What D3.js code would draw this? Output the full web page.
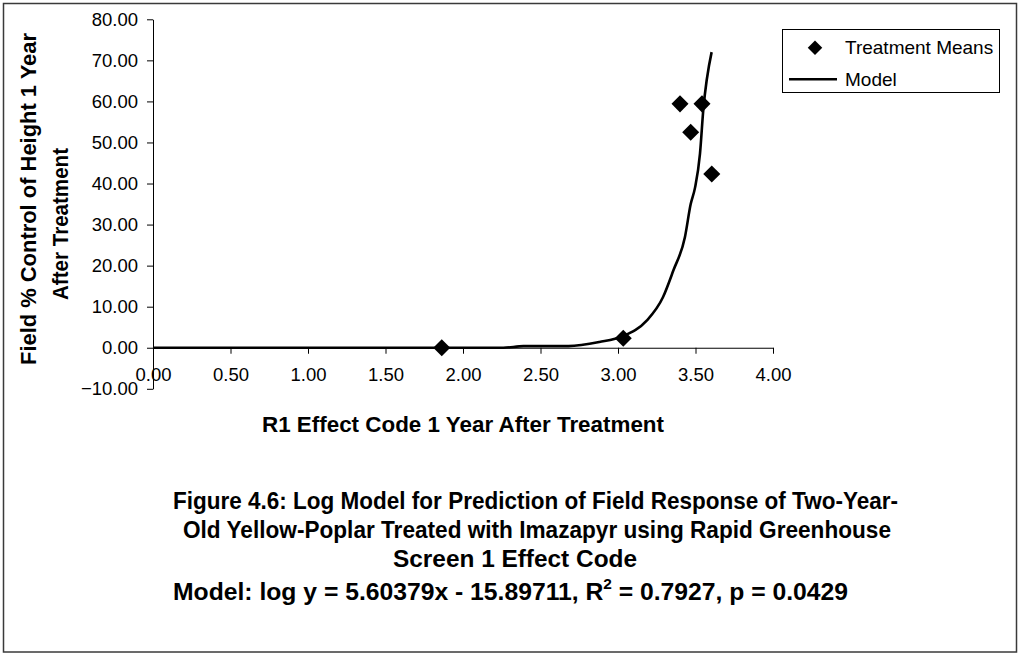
<!DOCTYPE html>
<html>
<head>
<meta charset="utf-8">
<script src="https://cdn.jsdelivr.net/npm/d3@7"></script>
<style>
  html, body { margin: 0; padding: 0; background: #fff; }
  svg { display: block; font-family: Arial, "Liberation Sans", sans-serif; }
</style>
</head>
<body>
<svg id="chart" width="1020" height="654"></svg>
<script>
// Treatment means: R1 effect code vs. field % control of height
const meanX = [1.863, 3.034, 3.40, 3.542, 3.469, 3.605];
const meanY = [0.0, 2.3, 59.4, 59.4, 52.5, 42.3];

// Fitted log model evaluated along the effect-code range
const modelX = [0.00, 1.86, 2.26, 2.39, 2.68, 2.88, 3.03, 3.185, 3.29, 3.357, 3.432, 3.469, 3.497, 3.529, 3.55, 3.604];
const modelY = [0.0, 0.0, 0.0, 0.4, 0.4, 1.4, 2.8, 6.6, 12.3, 18.8, 27.0, 35.0, 39.0, 47.3, 57.8, 72.0];

const xTicks = [0, 0.5, 1, 1.5, 2, 2.5, 3, 3.5, 4];
const yTicks = [-10, 0, 10, 20, 30, 40, 50, 60, 70, 80];

const seriesNames = ["Treatment Means", "Model"];
const xTitle = "R1 Effect Code 1 Year After Treatment";
const yTitle = ["Field % Control of Height 1 Year", "After Treatment"];
const caption = [
  "Figure 4.6: Log Model for Prediction of Field Response of Two-Year-",
  "Old Yellow-Poplar Treated with Imazapyr using Rapid Greenhouse",
  "Screen 1 Effect Code"
];

const svg = d3.select("#chart");

// outer frame
svg.append("rect")
  .attr("x", 3.5).attr("y", 3.5).attr("width", 1013).attr("height", 648.5)
  .attr("fill", "#fff").attr("stroke", "#3a3a3a").attr("stroke-width", 1.5);

const x = d3.scaleLinear().domain([0, 4]).range([153, 773]);
const y = d3.scaleLinear().domain([-10, 80]).range([388.8, 19.3]);

// x axis sits on y = 0
const xAxis = svg.append("g")
  .attr("transform", `translate(0,${y(0)})`)
  .call(d3.axisBottom(x).tickValues(xTicks).tickSize(6).tickSizeOuter(0).tickPadding(14)
    .tickFormat(d3.format(".2f")));
xAxis.select(".domain").attr("stroke", "#000");
xAxis.selectAll(".tick line").attr("stroke", "#000");
xAxis.selectAll("text").attr("font-size", 18.5).attr("fill", "#000")
  .attr("font-family", "Arial, 'Liberation Sans', sans-serif");

// y axis sits on x = 0
const yAxis = svg.append("g")
  .attr("transform", `translate(${x(0)},0)`)
  .call(d3.axisLeft(y).tickValues(yTicks).tickSize(6).tickSizeOuter(0).tickPadding(9)
    .tickFormat(d3.format(".2f")));
yAxis.select(".domain").attr("stroke", "#000");
yAxis.selectAll(".tick line").attr("stroke", "#000");
yAxis.selectAll("text").attr("font-size", 18.5).attr("fill", "#000")
  .attr("font-family", "Arial, 'Liberation Sans', sans-serif");

// model curve
const modelPts = modelX.map((v, i) => [v, modelY[i]]);
svg.append("path")
  .datum(modelPts)
  .attr("fill", "none").attr("stroke", "#000").attr("stroke-width", 2.6)
  .attr("stroke-linejoin", "round")
  .attr("d", d3.line().x(d => x(d[0])).y(d => y(d[1])).curve(d3.curveMonotoneX));

// treatment means as diamonds
const diamond = d3.symbol().type(d3.symbolSquare).size(145);
svg.append("g").selectAll("path")
  .data(meanX.map((v, i) => [v, meanY[i]]))
  .join("path")
  .attr("d", diamond)
  .attr("fill", "#000")
  .attr("transform", d => `translate(${x(d[0])},${y(d[1])}) rotate(45)`);

// axis titles
svg.append("text")
  .attr("x", 463).attr("y", 432)
  .attr("text-anchor", "middle").attr("font-weight", "bold").attr("font-size", 22)
  .attr("textLength", 402).attr("lengthAdjust", "spacingAndGlyphs")
  .text(xTitle);

svg.append("text")
  .attr("transform", "translate(36,199) rotate(-90)")
  .attr("text-anchor", "middle").attr("font-weight", "bold").attr("font-size", 21.5)
  .attr("textLength", 332).attr("lengthAdjust", "spacingAndGlyphs")
  .text(yTitle[0]);
svg.append("text")
  .attr("transform", "translate(68,224) rotate(-90)")
  .attr("text-anchor", "middle").attr("font-weight", "bold").attr("font-size", 21.5)
  .attr("textLength", 152).attr("lengthAdjust", "spacingAndGlyphs")
  .text(yTitle[1]);

// legend
const lg = svg.append("g");
lg.append("rect")
  .attr("x", 782.5).attr("y", 29.5).attr("width", 217).attr("height", 63)
  .attr("fill", "#fff").attr("stroke", "#000").attr("stroke-width", 1);
lg.append("path").attr("d", diamond).attr("fill", "#000")
  .attr("transform", "translate(815,47.7) rotate(45) scale(0.85)");
lg.append("line").attr("x1", 789).attr("x2", 837).attr("y1", 79.3).attr("y2", 79.3)
  .attr("stroke", "#000").attr("stroke-width", 2.6);
lg.selectAll("text.lbl")
  .data(seriesNames)
  .join("text")
  .attr("class", "lbl")
  .attr("x", 845).attr("y", (d, i) => i === 0 ? 47.7 : 79.3)
  .attr("dy", "0.35em").attr("font-size", 19)
  .text(d => d);

// figure caption
const capBox = [
  { cx: 535.5, y: 508.5, w: 725 },
  { cx: 537, y: 538, w: 708 },
  { cx: 515, y: 566.5, w: 244 }
];
const cap = svg.append("g").attr("font-weight", "bold").attr("font-size", 24).attr("text-anchor", "middle");
caption.forEach((t, i) => {
  cap.append("text")
    .attr("x", capBox[i].cx).attr("y", capBox[i].y)
    .attr("textLength", capBox[i].w).attr("lengthAdjust", "spacingAndGlyphs")
    .text(t);
});
const modelLine = cap.append("text").attr("x", 510.5).attr("y", 599.5)
  .attr("textLength", 675).attr("lengthAdjust", "spacingAndGlyphs");
modelLine.append("tspan").text("Model: log y = 5.60379x - 15.89711, R");
modelLine.append("tspan").attr("font-size", 15).attr("dy", -11).text("2");
modelLine.append("tspan").attr("dy", 11).text(" = 0.7927, p = 0.0429");
</script>
</body>
</html>
